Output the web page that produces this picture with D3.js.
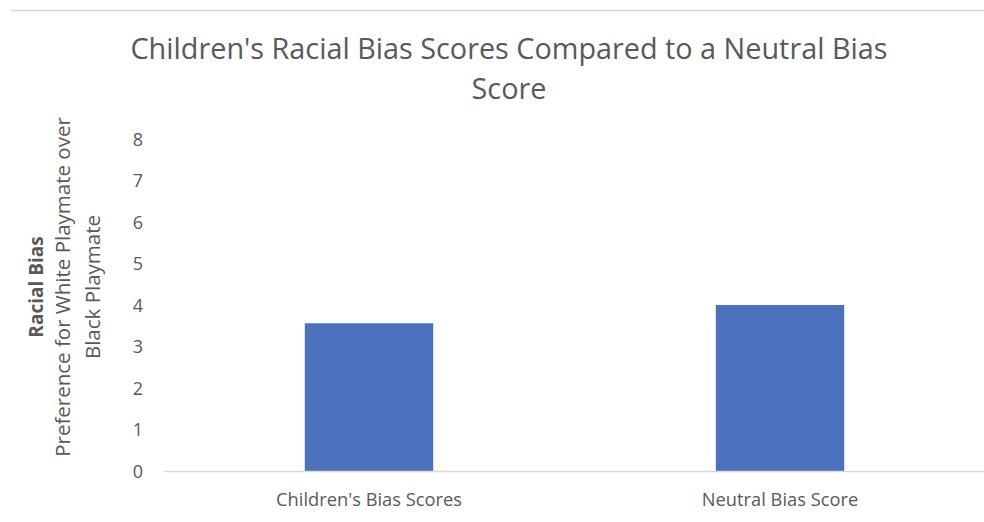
<!DOCTYPE html>
<html><head><meta charset="utf-8">
<script src="https://cdn.jsdelivr.net/npm/d3@7"></script>
<style>body{margin:0;background:#fff}svg{display:block}text{font-family:"Open Sans",sans-serif}</style>
</head><body>
<script>
const categories = ["Children's Bias Scores", "Neutral Bias Score"];
const values = [3.56, 4.0];
const yTicks = [0, 1, 2, 3, 4, 5, 6, 7, 8];
const titleLines = ["Children's Racial Bias Scores Compared to a Neutral Bias", "Score"];
const yTitleLines = ["Racial Bias", "Preference for White Playmate over", "Black Playmate"];

const W = 984, H = 522;
const svg = d3.select("body").append("svg").attr("width", W).attr("height", H);
const gray = "#595959";

// top border line
svg.append("line").attr("x1", 11).attr("x2", W).attr("y1", 10.5).attr("y2", 10.5)
  .attr("stroke", "#d9d9d9").attr("stroke-width", 1.5);

const x = d3.scaleBand().domain(categories).range([163.5, 985.5]).paddingInner(0.6875).paddingOuter(0.34375);
const y = d3.scaleLinear().domain([0, 8]).range([471, 139]);

// title
const t = svg.append("g");
titleLines.forEach((s, i) => {
  t.append("text").attr("x", 509).attr("y", 59 + i * 40).attr("text-anchor", "middle")
    .attr("fill", gray).attr("font-size", 28.8).text(s);
});

// bars
svg.append("g").selectAll("rect").data(values).join("rect")
  .attr("x", (d, i) => x(categories[i])).attr("width", x.bandwidth())
  .attr("y", d => y(d)).attr("height", d => y(0) - y(d)).attr("fill", "#4e71be");

// y axis (labels only)
const ya = svg.append("g").attr("transform", "translate(143,0)")
  .call(d3.axisLeft(y).tickValues(yTicks).tickSize(0).tickPadding(0).tickFormat(d3.format("d")));
ya.select(".domain").remove();
ya.selectAll("text").attr("fill", gray).attr("font-size", 18).attr("font-family", "Open Sans").attr("dy", "0.35em");

// x axis
const xa = svg.append("g").attr("transform", "translate(0,471)")
  .call(d3.axisBottom(x).tickSize(0).tickPadding(0));
xa.select(".domain").attr("stroke", "#d9d9d9").attr("stroke-width", 1.5);
xa.selectAll("text").attr("fill", gray).attr("font-size", 18.3).attr("font-family", "Open Sans").attr("y", 35).attr("dy", "0");

// y title
const yt = svg.append("g").attr("transform", "translate(0,287) rotate(-90)");
yTitleLines.forEach((s, i) => {
  yt.append("text").attr("x", 0).attr("y", [43, 70, 100][i]).attr("text-anchor", "middle")
    .attr("fill", gray).attr("font-size", i === 0 ? 19 : 20.5).attr("font-weight", i === 0 ? "bold" : "normal").text(s);
});
</script>
</body></html>
